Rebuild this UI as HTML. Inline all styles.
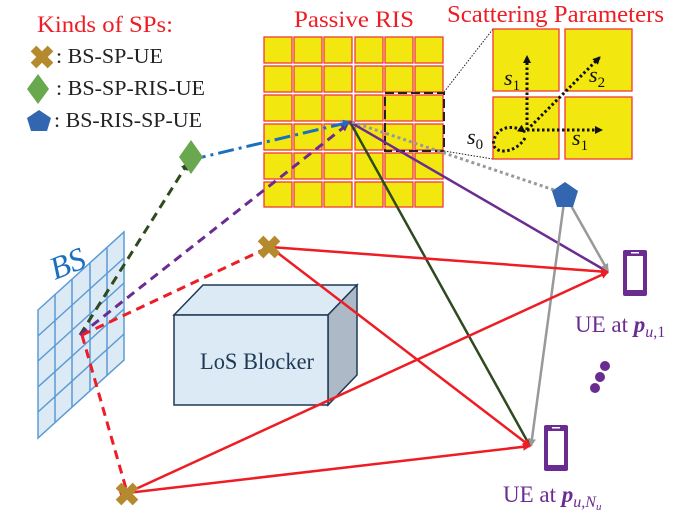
<!DOCTYPE html>
<html><head><meta charset="utf-8"><style>
body{margin:0;background:#fff;}
svg{display:block;font-family:"Liberation Serif",serif;}
</style></head><body>
<svg width="690" height="522" viewBox="0 0 690 522" xmlns="http://www.w3.org/2000/svg">
<defs>
<marker id="ar" markerWidth="8" markerHeight="8" refX="7" refY="4" orient="auto" markerUnits="userSpaceOnUse" viewBox="0 0 8 8"><path d="M0,0 L8,4 L0,8 z" fill="#ee1c24"/></marker>
<marker id="ag" markerWidth="8" markerHeight="8" refX="7" refY="4" orient="auto" markerUnits="userSpaceOnUse" viewBox="0 0 8 8"><path d="M0,0 L8,4 L0,8 z" fill="#2e4a1e"/></marker>
<marker id="agr" markerWidth="8" markerHeight="8" refX="7" refY="4" orient="auto" markerUnits="userSpaceOnUse" viewBox="0 0 8 8"><path d="M0,0 L8,4 L0,8 z" fill="#999"/></marker>
<marker id="ap" markerWidth="8" markerHeight="8" refX="7" refY="4" orient="auto" markerUnits="userSpaceOnUse" viewBox="0 0 8 8"><path d="M0,0 L8,4 L0,8 z" fill="#6a2c91"/></marker>
<marker id="ab" markerWidth="8" markerHeight="8" refX="7" refY="4" orient="auto" markerUnits="userSpaceOnUse" viewBox="0 0 8 8"><path d="M0,0 L8,4 L0,8 z" fill="#1a6fc0"/></marker>
<marker id="ak" markerWidth="8" markerHeight="8" refX="7" refY="4" orient="auto" markerUnits="userSpaceOnUse" viewBox="0 0 8 8"><path d="M0,0 L8,4 L0,8 z" fill="#111"/></marker>
</defs>

<!-- Legend -->
<text x="37" y="32" font-size="23" fill="#ee1c24" textLength="136" lengthAdjust="spacingAndGlyphs">Kinds of SPs:</text>
<g transform="translate(42,57) rotate(45)"><rect x="-12" y="-4" width="24" height="8" fill="#b58a2e"/><rect x="-4" y="-12" width="8" height="24" fill="#b58a2e"/></g>
<text x="56" y="63" font-size="21" fill="#222" textLength="107" lengthAdjust="spacingAndGlyphs">: BS-SP-UE</text>
<polygon points="38,74 49,89 38,104 27,89" fill="#6aa84f"/>
<text x="56" y="95" font-size="21" fill="#222" textLength="149" lengthAdjust="spacingAndGlyphs">: BS-SP-RIS-UE</text>
<polygon points="39,110 51,118 47,131 31,131 27,118" fill="#3366b0"/>
<text x="54" y="127" font-size="21" fill="#222" textLength="148" lengthAdjust="spacingAndGlyphs">: BS-RIS-SP-UE</text>

<!-- titles -->
<text x="294" y="27" font-size="23" fill="#ee1c24" textLength="120" lengthAdjust="spacingAndGlyphs">Passive RIS</text>
<text x="447" y="22" font-size="24" fill="#ee1c24" textLength="217" lengthAdjust="spacingAndGlyphs">Scattering Parameters</text>

<!-- RIS grid -->
<g fill="#f2e80f" stroke="#ee3a3a" stroke-width="1.3">
<rect x="264" y="37" width="28" height="26"/><rect x="294" y="37" width="28" height="26"/><rect x="324" y="37" width="28" height="26"/><rect x="355" y="37" width="28" height="26"/><rect x="385" y="37" width="28" height="26"/><rect x="415" y="37" width="28" height="26"/>
<rect x="264" y="66" width="28" height="26"/><rect x="294" y="66" width="28" height="26"/><rect x="324" y="66" width="28" height="26"/><rect x="355" y="66" width="28" height="26"/><rect x="385" y="66" width="28" height="26"/><rect x="415" y="66" width="28" height="26"/>
<rect x="264" y="95" width="28" height="26"/><rect x="294" y="95" width="28" height="26"/><rect x="324" y="95" width="28" height="26"/><rect x="355" y="95" width="28" height="26"/><rect x="385" y="95" width="28" height="26"/><rect x="415" y="95" width="28" height="26"/>
<rect x="264" y="124" width="28" height="26"/><rect x="294" y="124" width="28" height="26"/><rect x="324" y="124" width="28" height="26"/><rect x="355" y="124" width="28" height="26"/><rect x="385" y="124" width="28" height="26"/><rect x="415" y="124" width="28" height="26"/>
<rect x="264" y="153" width="28" height="26"/><rect x="294" y="153" width="28" height="26"/><rect x="324" y="153" width="28" height="26"/><rect x="355" y="153" width="28" height="26"/><rect x="385" y="153" width="28" height="26"/><rect x="415" y="153" width="28" height="26"/>
<rect x="264" y="182" width="28" height="25"/><rect x="294" y="182" width="28" height="25"/><rect x="324" y="182" width="28" height="25"/><rect x="355" y="182" width="28" height="25"/><rect x="385" y="182" width="28" height="25"/><rect x="415" y="182" width="28" height="25"/>
</g>
<rect x="385" y="93" width="59" height="58" fill="none" stroke="#222" stroke-width="2" stroke-dasharray="9,4"/>
<line x1="444" y1="92" x2="493" y2="29" stroke="#222" stroke-width="1" stroke-dasharray="1.5,1.5"/>
<line x1="444" y1="151" x2="493" y2="159" stroke="#222" stroke-width="1" stroke-dasharray="1.5,1.5"/>

<!-- inset -->
<g fill="#f2e80f" stroke="#ee3a3a" stroke-width="1.3">
<rect x="493" y="29" width="66" height="62"/><rect x="565" y="29" width="67" height="62"/>
<rect x="493" y="97" width="66" height="62"/><rect x="565" y="97" width="67" height="62"/>
</g>
<g stroke="#111" stroke-width="3" stroke-dasharray="2.5,2.5" fill="none">
<line x1="527" y1="130" x2="527" y2="56" marker-end="url(#ak)"/>
<line x1="527" y1="130" x2="602" y2="130" marker-end="url(#ak)"/>
<line x1="527" y1="130" x2="600" y2="57" marker-end="url(#ak)"/>
<path d="M525,138 C515,155 490,155 494,140 C498,125 515,125 525,132" marker-end="url(#ak)"/>
</g>
<g font-size="22" font-style="italic" fill="#111">
<text x="504" y="85">s<tspan font-size="15" font-style="normal" dy="5">1</tspan></text>
<text x="589" y="82">s<tspan font-size="15" font-style="normal" dy="5">2</tspan></text>
<text x="572" y="145">s<tspan font-size="15" font-style="normal" dy="5">1</tspan></text>
<text x="467" y="144">s<tspan font-size="15" font-style="normal" dy="5">0</tspan></text>
</g>

<!-- BS panel -->
<polygon points="38,310 124,232 124,360 38,438" fill="#dceaf6" stroke="#5b9bd5" stroke-width="1.5"/>
<g stroke="#5b9bd5" stroke-width="1.5">
<line x1="55" y1="294" x2="55" y2="422"/><line x1="72" y1="279" x2="72" y2="407"/><line x1="90" y1="263" x2="90" y2="391"/><line x1="107" y1="248" x2="107" y2="376"/>
<line x1="38" y1="336" x2="124" y2="258"/><line x1="38" y1="361" x2="124" y2="283"/><line x1="38" y1="387" x2="124" y2="309"/><line x1="38" y1="412" x2="124" y2="334"/>
</g>
<text x="0" y="0" font-size="32" font-style="italic" fill="#1a6fc0" transform="translate(55,280) rotate(-22)">BS</text>

<!-- Box -->
<polygon points="174,315 203,285 357,285 328,315" fill="#dceaf6" stroke="#1f3a55" stroke-width="1.5"/>
<polygon points="328,315 357,285 357,375 328,405" fill="#adb9c6" stroke="#1f3a55" stroke-width="1.5"/>
<rect x="174" y="315" width="154" height="90" fill="#dceaf6" stroke="#1f3a55" stroke-width="1.5"/>
<text x="200" y="369" font-size="23" fill="#1f3a55" textLength="114" lengthAdjust="spacingAndGlyphs">LoS Blocker</text>

<!-- dashed BS lines -->
<line x1="80" y1="335" x2="188" y2="163" stroke="#2e4a1e" stroke-width="3" stroke-dasharray="9,6" marker-end="url(#ag)"/>
<line x1="80" y1="335" x2="348" y2="124" stroke="#6a2c91" stroke-width="3" stroke-dasharray="9,6" marker-end="url(#ap)"/>
<line x1="82" y1="335" x2="265" y2="249" stroke="#ee1c24" stroke-width="3" stroke-dasharray="9,6"/>
<line x1="82" y1="335" x2="127" y2="492" stroke="#ee1c24" stroke-width="3" stroke-dasharray="9,6"/>
<line x1="190" y1="160" x2="350" y2="122" stroke="#1a6fc0" stroke-width="3" stroke-dasharray="16,5,3,5" marker-end="url(#ab)"/>

<!-- RIS outgoing -->
<line x1="350" y1="122" x2="530" y2="446" stroke="#2e4a1e" stroke-width="2.5" marker-end="url(#ag)"/>
<line x1="350" y1="122" x2="608" y2="272" stroke="#6a2c91" stroke-width="2.5" marker-end="url(#ap)"/>
<line x1="352" y1="122" x2="563" y2="193" stroke="#999" stroke-width="3" stroke-dasharray="3,3" marker-end="url(#agr)"/>
<line x1="565" y1="195" x2="608" y2="271" stroke="#999" stroke-width="2.5" marker-end="url(#agr)"/>
<line x1="565" y1="195" x2="531" y2="446" stroke="#999" stroke-width="2.5" marker-end="url(#agr)"/>

<!-- red solid -->
<g stroke="#ee1c24" stroke-width="2.5" fill="none">
<line x1="270" y1="247" x2="608" y2="272" marker-start="url(#ar)" marker-end="url(#ar)"/>
<line x1="270" y1="247" x2="530" y2="446" marker-end="url(#ar)"/>
<line x1="127" y1="493" x2="608" y2="272" marker-start="url(#ar)" marker-end="url(#ar)"/>
<line x1="127" y1="493" x2="530" y2="446" marker-start="url(#ar)" marker-end="url(#ar)"/>
</g>

<!-- SP markers -->
<polygon points="191,140 203,157 191,174 179,157" fill="#6aa84f"/>
<polygon points="565,182 578,191 573,207 557,207 552,191" fill="#3366b0"/>
<g transform="translate(269,247) rotate(45)"><rect x="-12" y="-4" width="24" height="8" fill="#b58a2e"/><rect x="-4" y="-12" width="8" height="24" fill="#b58a2e"/></g>
<g transform="translate(127,494) rotate(45)"><rect x="-12" y="-4" width="24" height="8" fill="#b58a2e"/><rect x="-4" y="-12" width="8" height="24" fill="#b58a2e"/></g>

<!-- phones -->
<rect x="623" y="250" width="24" height="46" rx="2" fill="#6a2c91"/><rect x="627" y="256" width="16" height="34" fill="#fff"/><rect x="631" y="252" width="8" height="1.5" fill="#fff"/>
<rect x="544" y="425" width="24" height="46" rx="2" fill="#6a2c91"/><rect x="548" y="431" width="16" height="34" fill="#fff"/><rect x="552" y="427" width="8" height="1.5" fill="#fff"/>
<circle cx="605" cy="366" r="5" fill="#6a2c91"/><circle cx="600" cy="377" r="5" fill="#6a2c91"/><circle cx="595" cy="388" r="5" fill="#6a2c91"/>
<text x="575" y="332" font-size="23" fill="#6a2c91">UE at <tspan font-weight="bold" font-style="italic">p</tspan><tspan font-size="16" font-style="italic" dy="5">u</tspan><tspan font-size="16">,1</tspan></text>
<text x="503" y="502" font-size="23" fill="#6a2c91">UE at <tspan font-weight="bold" font-style="italic">p</tspan><tspan font-size="16" font-style="italic" dy="5">u,N</tspan><tspan font-size="11" font-style="italic" dy="3">u</tspan></text>
</svg>
</body></html>
